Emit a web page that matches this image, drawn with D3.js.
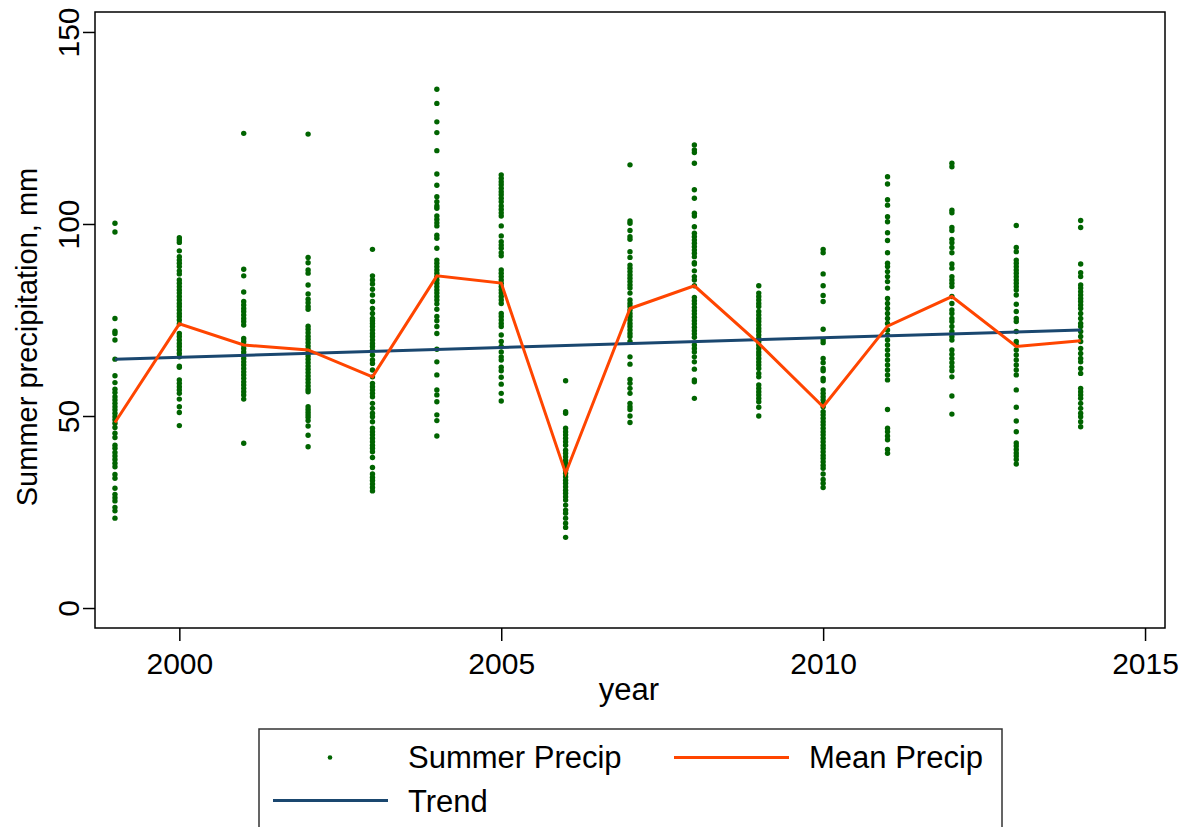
<!DOCTYPE html>
<html>
<head>
<meta charset="utf-8">
<script src="https://cdn.jsdelivr.net/npm/d3@7"></script>
<style>
  body { margin: 0; background: #fff; }
  svg text { font-family: "Liberation Sans", Arial, sans-serif; fill: #000; }
</style>
</head>
<body>
<svg id="chart" width="1195" height="827"></svg>
<script>
// Summer precipitation (mm) per station, one array per year
const p1999 = [100.2, 97.9, 75.4, 72.1, 71.5, 69.8, 64.8, 60.5, 58.7, 57.0, 56.1, 55.0, 54.2, 53.3, 52.4, 51.6, 50.7, 49.8, 49.0, 48.1, 47.0, 45.5, 44.4, 42.4, 41.6, 40.5, 39.6, 38.7, 37.7, 36.8, 34.8, 33.8, 31.2, 29.6, 28.7, 27.9, 26.2, 25.3, 23.4];
const p2000 = [96.4, 95.8, 95.2, 93.0, 91.5, 90.6, 89.8, 88.9, 87.8, 87.0, 85.4, 84.6, 83.7, 82.8, 82.0, 81.1, 80.2, 79.3, 78.5, 77.6, 76.7, 75.9, 75.0, 74.0, 71.5, 70.7, 69.8, 68.9, 68.1, 67.2, 66.3, 65.4, 63.0, 62.7, 59.4, 58.5, 57.6, 56.8, 55.9, 54.4, 52.4, 50.9, 47.5];
const p2001 = [123.6, 88.2, 86.5, 82.3, 79.8, 78.9, 78.0, 77.2, 76.3, 75.4, 74.6, 73.7, 70.2, 69.4, 68.5, 67.6, 66.7, 65.9, 65.0, 64.1, 63.3, 62.4, 61.5, 60.7, 59.8, 58.9, 58.1, 57.2, 56.3, 55.5, 54.4, 42.9];
const p2002 = [123.4, 91.3, 89.9, 88.0, 87.2, 84.1, 81.8, 80.4, 79.5, 78.5, 77.8, 73.4, 72.6, 71.7, 70.8, 70.0, 69.1, 68.2, 67.4, 66.5, 65.6, 64.8, 63.9, 63.0, 62.2, 61.3, 60.4, 59.6, 58.7, 57.8, 57.0, 56.3, 52.4, 51.7, 51.0, 50.3, 49.7, 48.8, 47.4, 45.0, 42.0];
const p2003 = [93.4, 86.5, 85.4, 84.4, 83.0, 81.5, 79.8, 78.0, 76.7, 75.4, 74.8, 74.1, 73.3, 72.4, 71.5, 70.7, 69.8, 68.9, 68.1, 67.2, 65.9, 64.6, 63.7, 62.0, 60.2, 58.5, 57.6, 56.8, 55.9, 55.0, 53.3, 52.0, 50.7, 49.8, 48.5, 46.8, 45.9, 45.1, 44.2, 43.3, 42.4, 41.6, 40.7, 39.2, 36.6, 34.9, 34.0, 33.2, 32.3, 31.4, 30.5];
const p2004 = [135.1, 131.4, 126.6, 123.8, 119.1, 113.0, 110.1, 107.1, 105.8, 104.7, 104.1, 102.1, 101.2, 100.3, 99.5, 97.1, 96.3, 93.7, 90.6, 89.8, 88.9, 88.0, 87.2, 86.3, 85.4, 84.6, 83.7, 82.8, 82.0, 81.1, 80.2, 79.2, 77.8, 75.9, 74.8, 73.3, 71.5, 67.4, 64.1, 60.7, 56.8, 55.5, 53.7, 50.3, 48.8, 44.8];
const p2005 = [112.8, 111.9, 111.0, 110.2, 109.3, 108.4, 107.6, 106.7, 105.8, 104.7, 103.8, 102.9, 102.1, 99.5, 96.9, 95.4, 94.5, 93.7, 92.5, 91.7, 88.0, 87.2, 86.3, 85.4, 84.6, 83.7, 82.8, 82.0, 81.1, 80.2, 79.3, 76.7, 75.9, 75.0, 74.1, 73.3, 71.1, 69.4, 68.1, 66.7, 65.4, 64.6, 62.7, 61.8, 60.1, 58.3, 55.9, 53.9];
const p2006 = [59.2, 51.1, 50.7, 46.8, 45.9, 45.1, 44.2, 43.3, 42.4, 41.1, 40.3, 39.4, 38.5, 37.7, 36.8, 35.9, 35.1, 34.2, 33.3, 32.5, 31.6, 30.7, 29.9, 29.0, 28.1, 26.8, 25.5, 24.7, 23.4, 22.1, 21.0, 18.4];
const p2007 = [115.4, 100.8, 100.2, 98.3, 96.7, 96.0, 92.8, 91.3, 89.3, 88.5, 87.6, 86.7, 85.9, 85.0, 84.1, 83.3, 82.0, 80.2, 79.3, 78.5, 77.6, 76.7, 75.9, 75.0, 74.1, 73.3, 72.4, 71.5, 70.7, 69.4, 65.4, 63.5, 59.5, 58.5, 57.2, 55.9, 53.3, 52.4, 51.7, 50.0, 48.3];
const p2008 = [120.6, 119.3, 118.6, 115.8, 108.9, 106.7, 102.8, 102.1, 99.3, 97.6, 96.7, 95.8, 95.0, 94.1, 93.2, 92.4, 91.5, 89.9, 89.6, 87.8, 86.3, 85.4, 83.9, 80.9, 80.0, 79.2, 78.3, 77.4, 76.6, 75.7, 74.8, 74.0, 73.1, 72.2, 71.4, 70.5, 68.5, 67.6, 66.7, 65.4, 64.1, 62.2, 59.4, 58.9, 54.6];
const p2009 = [83.9, 82.0, 81.1, 80.2, 79.3, 78.5, 77.2, 76.3, 75.4, 74.6, 73.7, 72.8, 72.0, 71.1, 70.2, 69.4, 68.5, 67.6, 66.7, 65.9, 65.0, 64.1, 63.3, 62.4, 61.1, 60.2, 58.1, 57.2, 56.3, 55.5, 54.6, 53.7, 52.3, 50.0];
const p2010 = [93.4, 92.5, 87.0, 83.9, 81.4, 79.8, 72.6, 69.8, 69.1, 65.0, 63.9, 62.4, 61.8, 59.8, 59.2, 56.8, 55.9, 55.0, 54.2, 53.3, 52.4, 51.1, 50.3, 49.4, 48.5, 47.7, 46.8, 45.9, 45.1, 44.2, 43.3, 42.4, 41.6, 40.7, 39.8, 39.0, 38.1, 37.2, 36.4, 34.9, 33.5, 32.5, 31.4];
const p2011 = [112.3, 110.4, 106.3, 104.9, 101.9, 100.6, 97.7, 95.7, 92.5, 89.8, 88.9, 87.6, 86.3, 85.0, 83.3, 80.6, 79.3, 78.0, 76.7, 75.4, 74.1, 72.4, 71.1, 69.8, 68.5, 67.2, 65.9, 64.6, 63.3, 62.0, 60.7, 59.4, 51.7, 46.8, 45.9, 44.8, 43.8, 41.3, 40.3];
const p2012 = [115.8, 114.9, 103.6, 102.9, 99.1, 98.3, 96.0, 95.1, 93.9, 92.5, 89.6, 88.5, 86.3, 85.4, 84.6, 83.7, 81.1, 79.3, 77.6, 76.7, 75.4, 74.6, 73.3, 72.0, 70.7, 69.8, 67.2, 66.1, 65.0, 63.9, 62.8, 61.8, 60.2, 55.2, 50.5];
const p2013 = [99.6, 93.9, 92.8, 90.6, 89.8, 88.9, 88.0, 87.2, 86.3, 85.4, 84.6, 83.7, 82.8, 81.5, 79.1, 77.2, 75.4, 74.6, 72.0, 69.4, 68.5, 67.2, 65.9, 64.6, 63.3, 62.0, 60.7, 56.8, 52.3, 48.7, 45.9, 43.0, 42.2, 41.3, 40.4, 39.6, 38.7, 37.5];
const p2014 = [100.9, 99.1, 89.6, 87.3, 86.3, 84.1, 83.3, 82.4, 81.5, 80.6, 79.8, 78.9, 78.0, 76.7, 75.4, 74.1, 73.3, 72.0, 70.7, 69.4, 67.6, 66.3, 65.0, 64.1, 62.4, 61.1, 57.2, 56.3, 55.5, 54.6, 53.3, 52.0, 50.7, 49.8, 48.5, 47.2];

const years = [1999, 2000, 2001, 2002, 2003, 2004, 2005, 2006, 2007, 2008, 2009, 2010, 2011, 2012, 2013, 2014];
const meanPrecip = [48.3, 74.0, 68.5, 67.2, 60.2, 86.5, 84.6, 35.1, 78.0, 83.9, 68.9, 52.4, 73.4, 81.1, 68.1, 69.6];
const trendYears = [1999, 2014];
const trendValues = [64.8, 72.4];

const xTicks = [2000, 2005, 2010, 2015];
const yTicks = [0, 50, 100, 150];
const legendLabels = ["Summer Precip", "Mean Precip", "Trend"];

const byYear = [p1999, p2000, p2001, p2002, p2003, p2004, p2005, p2006,
                p2007, p2008, p2009, p2010, p2011, p2012, p2013, p2014];
const points = [];
byYear.forEach((vals, i) => vals.forEach((v) => points.push({year: years[i], precip: v})));

const green = "#006400", orange = "#ff4500", navy = "#1a476f";

const svg = d3.select("#chart"),
      plot = {left: 95, top: 12, right: 1165, bottom: 628};

const xScale = d3.scaleLinear().domain([1998.69, 2015.31]).range([plot.left, plot.right]),
      yScale = d3.scaleLinear().domain([-5.2, 155.2]).range([plot.bottom, plot.top]);

svg.append("rect").attr("width", 1195).attr("height", 827).attr("fill", "#fff");

// Y axis with vertical labels
const yAxis = svg.append("g")
  .attr("transform", `translate(${plot.left}, 0)`)
  .call(d3.axisLeft(yScale).tickValues(yTicks).tickSize(12));
yAxis.select(".domain").remove();
yAxis.selectAll(".tick line").attr("stroke", "#000").attr("stroke-width", 1.5);
yAxis.selectAll(".tick text")
  .attr("x", null).attr("dy", null)
  .attr("transform", "translate(-16, 0) rotate(-90)")
  .attr("text-anchor", "middle")
  .style("font-size", "30px");

// X axis
const xAxis = svg.append("g")
  .attr("transform", `translate(0, ${plot.bottom})`)
  .call(d3.axisBottom(xScale).tickValues(xTicks).tickSize(13).tickPadding(12).tickFormat(d3.format("d")));
xAxis.select(".domain").remove();
xAxis.selectAll(".tick line").attr("stroke", "#000").attr("stroke-width", 1.5);
xAxis.selectAll(".tick text").style("font-size", "30px");

// Axis titles
svg.append("text")
  .attr("transform", "translate(37, 337) rotate(-90)")
  .attr("text-anchor", "middle")
  .style("font-size", "29px")
  .text("Summer precipitation, mm");

svg.append("text")
  .attr("x", (plot.left + plot.right) / 2 - 1)
  .attr("y", 700)
  .attr("text-anchor", "middle")
  .style("font-size", "31px")
  .text("year");

// Scatter of station values
svg.append("g").selectAll("circle")
  .data(points)
  .enter()
  .append("circle")
  .attr("cx", (d) => xScale(d.year))
  .attr("cy", (d) => yScale(d.precip))
  .attr("r", 2.7)
  .attr("fill", green);

// Trend line
const trendLine = d3.line().x((d, i) => xScale(trendYears[i])).y((d) => yScale(d));
svg.append("path")
  .attr("d", trendLine(trendValues))
  .attr("fill", "none")
  .attr("stroke", navy)
  .attr("stroke-width", 3);

// Mean line
const meanLine = d3.line().x((d, i) => xScale(years[i])).y((d) => yScale(d));
svg.append("path")
  .attr("d", meanLine(meanPrecip))
  .attr("fill", "none")
  .attr("stroke", orange)
  .attr("stroke-width", 3)
  .attr("stroke-linejoin", "miter");

// Plot frame
svg.append("rect")
  .attr("x", plot.left).attr("y", plot.top)
  .attr("width", plot.right - plot.left).attr("height", plot.bottom - plot.top)
  .attr("fill", "none").attr("stroke", "#000").attr("stroke-width", 1.5);

// Legend (box runs off the bottom of the image)
const legend = svg.append("g");
legend.append("rect")
  .attr("x", 259).attr("y", 729).attr("width", 743).attr("height", 130)
  .attr("fill", "#fff").attr("stroke", "#333").attr("stroke-width", 1.5);
legend.append("circle").attr("cx", 330).attr("cy", 757.5).attr("r", 2.3).attr("fill", green);
legend.append("line").attr("x1", 674).attr("x2", 789).attr("y1", 757.5).attr("y2", 757.5)
  .attr("stroke", orange).attr("stroke-width", 3);
legend.append("line").attr("x1", 273).attr("x2", 388).attr("y1", 800.5).attr("y2", 800.5)
  .attr("stroke", navy).attr("stroke-width", 3);
legend.selectAll("text.lab")
  .data(legendLabels)
  .enter()
  .append("text")
  .attr("class", "lab")
  .attr("x", (d, i) => i === 1 ? 809 : 408)
  .attr("y", (d, i) => i === 2 ? 811.5 : 768)
  .style("font-size", "31px")
  .text((d) => d);
</script>
</body>
</html>
